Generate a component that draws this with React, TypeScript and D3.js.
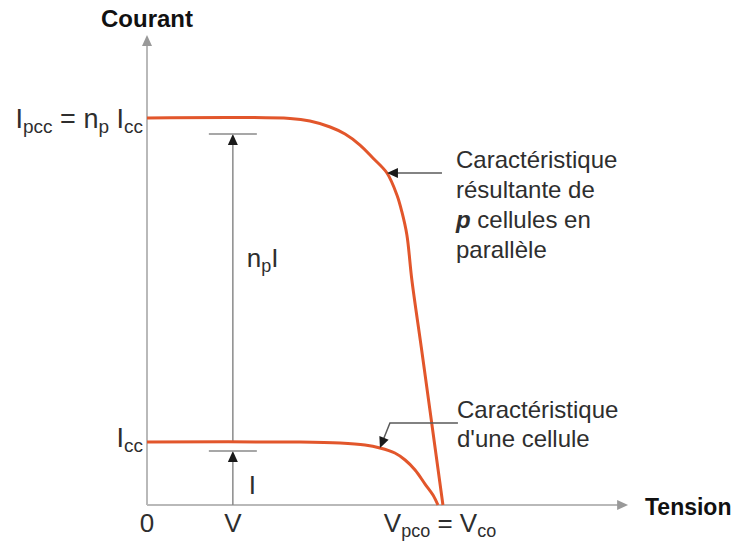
import React from "react";
import * as d3 from "d3";

// I–V characteristics: voltage normalised to V_co, current normalised to I_cc
const singleCellV = [0, 0.522, 0.659, 0.744, 0.795, 0.846, 0.881, 0.915, 0.949, 0.976, 0.993];
const singleCellI = [1.0, 1.0, 0.984, 0.952, 0.905, 0.825, 0.714, 0.556, 0.333, 0.159, 0];

const parallelV = [0, 0.488, 0.556, 0.625, 0.676, 0.727, 0.771, 0.819, 0.853, 0.87, 0.887, 0.904, 0.936, 0.967, 1.01];
const parallelI = [6.143, 6.135, 6.095, 6.0, 5.889, 5.714, 5.508, 5.27, 4.921, 4.651, 4.286, 3.571, 2.508, 1.46, 0];

// operating voltage marked on the x axis, and the axis extents
const operatingV = 0.293;
const Icc = 1.0;
const Ipcc = 6.143;
const axisMaxV = 1.642;
const axisMaxI = 7.46;

// points on each curve that the callouts point at
const parallelCalloutIndex = 7;
const singleCalloutIndex = 4;

const parallelLabel = ["Caractéristique", "résultante de", "p cellules en", "parallèle"];
const singleLabel = ["Caractéristique", "d'une cellule"];

const W = 734;
const H = 542;
const curveColor = "#e2562b";
const axisColor = "#b9b9b9";
const leaderColor = "#5a5a5a";
const textColor = "#2e2e2e";
const font = "'Liberation Sans', Arial, Helvetica, sans-serif";

export default function App() {
  const x = d3.scaleLinear().domain([0, 1]).range([147, 440]);
  const y = d3.scaleLinear().domain([0, 1]).range([505, 442]);

  const line = d3
    .line<[number, number]>()
    .x((d) => x(d[0]))
    .y((d) => y(d[1]))
    .curve(d3.curveCatmullRom.alpha(0.5));

  const singlePts = singleCellV.map((v, i) => [v, singleCellI[i]] as [number, number]);
  const parallelPts = parallelV.map((v, i) => [v, parallelI[i]] as [number, number]);

  const x0 = x(0);
  const y0 = y(0);
  const xEnd = x(axisMaxV);
  const yEnd = y(axisMaxI);
  const xOp = x(operatingV);

  // measurement bars slightly under each plateau
  const topBarY = y(Ipcc) + 16;
  const lowBarY = y(Icc) + 9;

  // callout geometry
  const pTip = parallelPts[parallelCalloutIndex];
  const pTipX = x(pTip[0]);
  const pTipY = y(pTip[1]);
  const sTip = singlePts[singleCalloutIndex];
  const sTipX = x(sTip[0]);
  const sTipY = y(sTip[1]);
  const sElbowX = sTipX + 10;
  const sElbowY = sTipY - 25;

  const arrowHead = (tx: number, ty: number, angle: number, len = 11, half = 5) => {
    const a = (angle * Math.PI) / 180;
    const bx = tx - Math.cos(a) * len;
    const by = ty - Math.sin(a) * len;
    const px = -Math.sin(a) * half;
    const py = Math.cos(a) * half;
    return `M${tx},${ty}L${bx + px},${by + py}L${bx - px},${by - py}Z`;
  };

  const sAngle = (Math.atan2(sTipY - sElbowY, sTipX - sElbowX) * 180) / Math.PI;

  const main = 26;
  const sub = 18;
  const yMain = 27;
  const ySub = 19;

  return (
    <svg
      width={W}
      height={H}
      style={{ position: "absolute", left: 0, top: 0, background: "#fff" }}
      fontFamily={font}
    >
      {/* axes */}
      <line x1={x0} y1={y0} x2={x0} y2={yEnd + 8} stroke={axisColor} strokeWidth={2} />
      <path d={arrowHead(x0, yEnd, -90, 11, 5)} fill="#999" />
      <line x1={x0} y1={y0} x2={xEnd - 8} y2={y0} stroke={axisColor} strokeWidth={2} />
      <path d={arrowHead(xEnd, y0, 0, 11, 5)} fill="#999" />

      {/* measurement: n_p I between plateaus, I under the single-cell plateau */}
      <line x1={xOp} y1={y(Icc)} x2={xOp} y2={topBarY + 8} stroke="#8a8a8a" strokeWidth={1.5} />
      <path d={arrowHead(xOp, topBarY, -90, 11, 5)} fill="#1a1a1a" />
      <line x1={xOp - 24} y1={topBarY} x2={xOp + 24} y2={topBarY} stroke="#8a8a8a" strokeWidth={1.5} />
      <line x1={xOp} y1={y0} x2={xOp} y2={lowBarY + 8} stroke="#8a8a8a" strokeWidth={1.5} />
      <path d={arrowHead(xOp, lowBarY, -90, 11, 5)} fill="#1a1a1a" />
      <line x1={xOp - 24} y1={lowBarY} x2={xOp + 24} y2={lowBarY} stroke="#8a8a8a" strokeWidth={1.5} />

      {/* curves */}
      <path d={line(parallelPts) ?? ""} fill="none" stroke={curveColor} strokeWidth={3} />
      <path d={line(singlePts) ?? ""} fill="none" stroke={curveColor} strokeWidth={3} />

      {/* callout leaders */}
      <line x1={pTipX + 8} y1={pTipY} x2={pTipX + 55} y2={pTipY} stroke={leaderColor} strokeWidth={1.5} />
      <path d={arrowHead(pTipX, pTipY, 180, 11, 5)} fill="#1a1a1a" />
      <polyline
        points={`${sElbowX + 68},${sElbowY} ${sElbowX},${sElbowY} ${sTipX + (sElbowX - sTipX) * 0.3},${sTipY - (sTipY - sElbowY) * 0.3}`}
        fill="none"
        stroke={leaderColor}
        strokeWidth={1.5}
      />
      <path d={arrowHead(sTipX, sTipY, sAngle, 11, 5)} fill="#1a1a1a" />

      {/* axis titles */}
      <text x={x0} y={27} textAnchor="middle" fontWeight="bold" fontSize={24} fill="#111">
        Courant
      </text>
      <text x={645} y={515} fontWeight="bold" fontSize={23} fill="#111">
        Tension
      </text>

      {/* x tick labels */}
      <text x={x0} y={532} textAnchor="middle" fontSize={main} fill={textColor}>
        0
      </text>
      <text x={xOp} y={532} textAnchor="middle" fontSize={main} fill={textColor}>
        V
      </text>
      <text x={x(1)} y={532} textAnchor="middle" fontSize={main} fill={textColor}>
        V
        <tspan fontSize={sub} dy={5}>pco</tspan>
        <tspan dy={-5}> = V</tspan>
        <tspan fontSize={sub} dy={5}>co</tspan>
      </text>

      {/* y tick labels */}
      <text x={x0 - 4} y={y(Ipcc) + 10} textAnchor="end" fontSize={yMain} fill={textColor}>
        I
        <tspan fontSize={ySub} dy={5}>pcc</tspan>
        <tspan dy={-5}> = n</tspan>
        <tspan fontSize={ySub} dy={5}>p</tspan>
        <tspan dy={-5}> I</tspan>
        <tspan fontSize={ySub} dy={5}>cc</tspan>
      </text>
      <text x={x0 - 4} y={y(Icc) + 5} textAnchor="end" fontSize={yMain} fill={textColor}>
        I
        <tspan fontSize={ySub} dy={5}>cc</tspan>
      </text>

      {/* measurement labels */}
      <text x={xOp + 14} y={267} fontSize={main} fill={textColor}>
        n
        <tspan fontSize={sub} dy={5}>p</tspan>
        <tspan dy={-5}>I</tspan>
      </text>
      <text x={xOp + 16} y={494} fontSize={main} fill={textColor}>
        I
      </text>

      {/* callout texts */}
      <text x={456} y={168} fontSize={24} fill={textColor}>
        {parallelLabel.map((t, i) => (
          <tspan key={i} x={456} dy={i === 0 ? 0 : 30}>
            {i === 2 ? (
              <>
                <tspan fontWeight="bold" fontStyle="italic">
                  {t.slice(0, 1)}
                </tspan>
                {t.slice(1)}
              </>
            ) : (
              t
            )}
          </tspan>
        ))}
      </text>
      <text x={457} y={418} fontSize={24} fill={textColor}>
        {singleLabel.map((t, i) => (
          <tspan key={i} x={457} dy={i === 0 ? 0 : 29}>
            {t}
          </tspan>
        ))}
      </text>
    </svg>
  );
}
